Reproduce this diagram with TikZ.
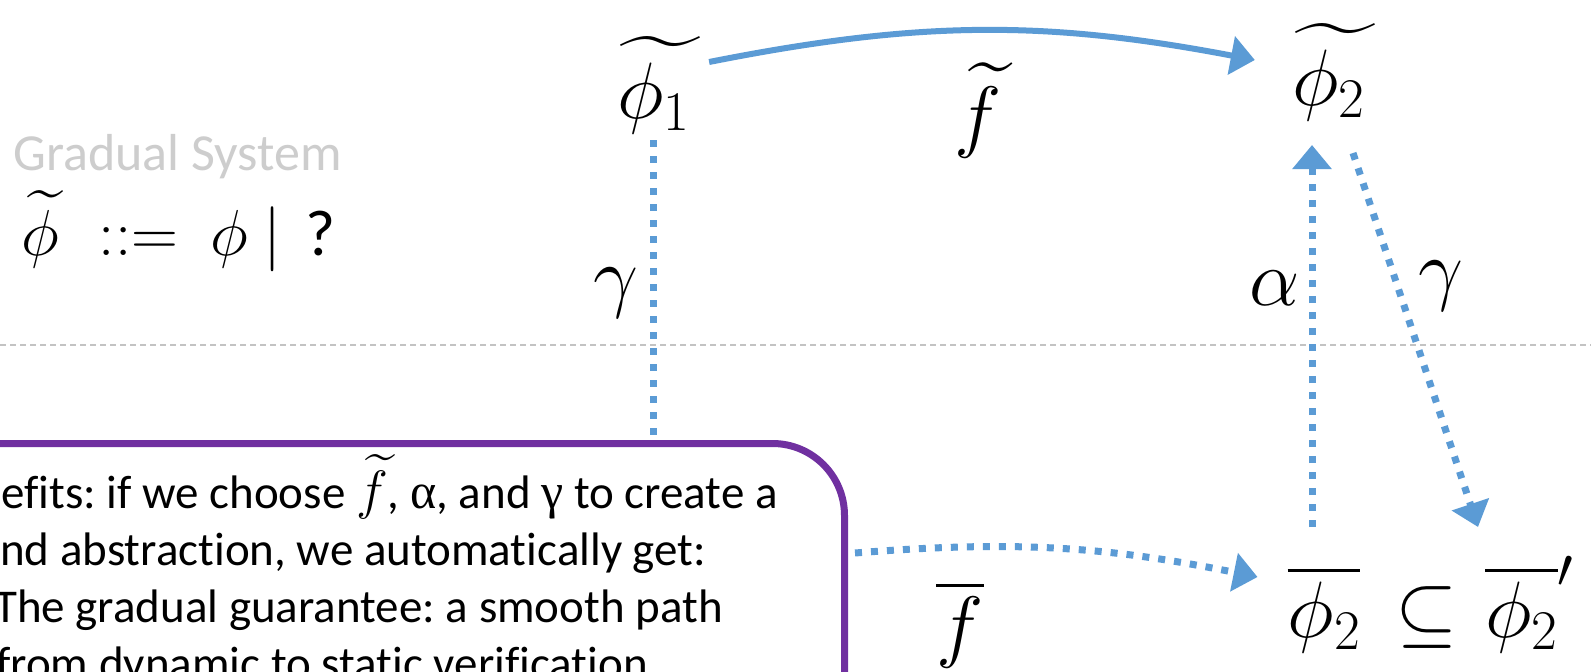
\RequirePackage{fix-cm}
\documentclass[tikz,border=0pt]{standalone}
\usepackage{amsmath}
\usepackage{fontspec}
\setmainfont{Carlito}[Ligatures=NoCommon]
\newfontfamily\symf{Liberation Serif}
\DeclareFontShape{OMX}{cmex}{m}{n}{<->cmex10}{}
\usetikzlibrary{arrows.meta}
\definecolor{myblue}{RGB}{91,155,213}
\definecolor{mypurple}{RGB}{112,48,160}
\definecolor{lightgraytxt}{RGB}{205,205,205}
\definecolor{sepgray}{RGB}{195,195,195}
\tikzset{
  solidblue/.style={draw=myblue, line width=6pt},
  dotblue/.style={draw=myblue, line width=7pt, dash pattern=on 7pt off 9pt},
  arrowtip/.style={-{Triangle[length=24pt,width=38pt]}},
  mathlbl/.style={inner sep=0pt, anchor=base, font=\fontsize{80}{96}\selectfont},
  boxtxt/.style={inner sep=0pt, anchor=base west, font=\fontsize{47}{56}\selectfont\frenchspacing},
}
\begin{document}
\begin{tikzpicture}[x=1pt,y=-1pt]
\useasboundingbox (0,0) rectangle (1591,672);
\fill[white] (0,0) rectangle (1591,672);
\clip (0,0) rectangle (1591,672);

% separator
\draw[sepgray, line width=1.5pt, dash pattern=on 6pt off 4pt] (0,345) -- (1591,345);

% left text
\node[inner sep=0pt, anchor=base west, text=lightgraytxt, font=\fontsize{52}{62}\selectfont] (title) at (13,170) {Gradual System};
\node[inner sep=0pt, anchor=base west, font=\fontsize{65}{78}\selectfont] (grammar) at (21,255)
  {$\widetilde{\phi}\hspace{40pt}\mathord{:}\mathord{:}\mathord{=}\hspace{32pt}\phi\hspace{16pt}|\hspace{24pt}$?};

% math nodes
\node[mathlbl] (t1) at (660,118) {$\widetilde{\phi_1\,}$};
\node[mathlbl] (t2) at (1335,105) {$\widetilde{\phi_2\,}$};
\node[mathlbl] (ft) at (978,142) {$\widetilde{f}$};
\node[mathlbl] (gl) at (616,302) {$\gamma$};
\node[mathlbl] (al) at (1275,305) {$\alpha$};
\node[mathlbl] (gr) at (1441,295) {$\gamma$};
\node[mathlbl] (b1) at (1324,637) {$\overline{\phi_2}$};
\node[mathlbl] (sub) at (1427,637) {$\subseteq$};
\node[mathlbl, anchor=base west] (b2) at (1485,637) {$\overline{\phi_2}'$};
\node[mathlbl] (fb) at (960,652) {$\overline{f}$};

% gamma (left), going under the box
\coordinate (g1end) at (653,480);
\draw[dotblue] ([shift={(-7,22)}]t1.base) -- (g1end);

% box
\node[draw=mypurple, line width=7pt, fill=white, rounded corners=72pt,
      minimum width=1100pt, minimum height=500pt, anchor=north east, inner sep=0pt]
      (box) at (848,440) {};
\node[boxtxt] (l1) at (1,508) {efits: if we choose {\fontsize{54}{60}\selectfont$\widetilde{f}$}, {\symf\fontsize{50}{60}\selectfont α}, and {\symf\fontsize{50}{60}\selectfont γ} to create a};
\node[boxtxt] (l2) at (0,565) {nd abstraction, we automatically get:};
\node[boxtxt] (l3) at (-6,622) {The gradual guarantee: a smooth path};
\node[boxtxt] (l4) at (-4,679) {from dynamic to static verification};

% arrows
\draw[solidblue, arrowtip] ([shift={(6,-56)}]t1.base east) to[bend left=11] ([shift={(-37,-45)}]t2.base west);
\draw[dotblue, arrowtip] ([shift={(-12,-110)}]b1.base) -- ([shift={(-23,40)}]t2.base);
\draw[dotblue, arrowtip] ([shift={(18,48)}]t2.base) -- ([shift={(-7,-110)}]b2.base west);
\draw[dotblue, arrowtip] ([shift={(7,113)}]box.north east) to[bend left=8] ([shift={(-30,-60)}]b1.base west);
\end{tikzpicture}
\end{document}
